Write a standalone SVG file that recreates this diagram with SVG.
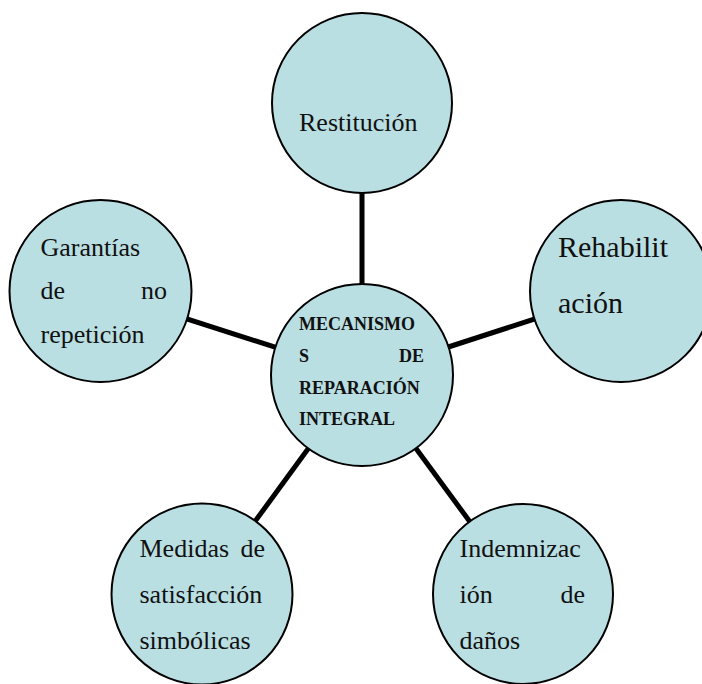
<svg xmlns="http://www.w3.org/2000/svg" width="702" height="684" viewBox="0 0 702 684">
<style>
.node circle{fill:#B9DFE3;stroke:#000;stroke-width:2}
.t{font-family:"Liberation Serif","Times New Roman",serif;font-size:26px;fill:#111}
.big{font-size:30px}
.c{font-family:"Liberation Serif","Times New Roman",serif;font-size:18px;font-weight:bold;fill:#111}
.e{text-anchor:end}
#connectors line{stroke:#000;stroke-width:5}
</style>
<rect width="702" height="684" fill="#fff"/>
<g id="connectors">
<line x1="362" y1="375" x2="362" y2="103"/>
<line x1="362" y1="375" x2="621" y2="291"/>
<line x1="362" y1="375" x2="100" y2="291"/>
<line x1="362" y1="375" x2="202" y2="594"/>
<line x1="362" y1="375" x2="523" y2="594"/>
</g>
<g id="restitucion" class="node">
<circle cx="362" cy="103" r="90"/>
<text class="t" x="299" y="131">Restitución</text>
</g>
<g id="rehabilitacion" class="node">
<circle cx="621" cy="291" r="91"/>
<text class="t big" x="558" y="256.5">Rehabilit</text>
<text class="t big" x="558" y="313">ación</text>
</g>
<g id="garantias" class="node">
<circle cx="100.5" cy="291" r="91"/>
<text class="t" x="40.5" y="256">Garantías</text>
<text class="t" x="40.5" y="299">de</text>
<text class="t e" x="167" y="299">no</text>
<text class="t" x="40.5" y="343">repetición</text>
</g>
<g id="medidas" class="node">
<circle cx="202" cy="594" r="90.5"/>
<text class="t" x="139.5" y="556.5">Medidas</text>
<text class="t e" x="265" y="556.5">de</text>
<text class="t" x="139.5" y="602.5">satisfacción</text>
<text class="t" x="139.5" y="648.5">simbólicas</text>
</g>
<g id="indemnizacion" class="node">
<circle cx="523" cy="594" r="90"/>
<text class="t" x="459.5" y="556.5">Indemnizac</text>
<text class="t" x="459.5" y="602.5">ión</text>
<text class="t e" x="585" y="602.5">de</text>
<text class="t" x="459.5" y="648.5">daños</text>
</g>
<g id="mecanismos" class="node">
<circle cx="362" cy="375" r="91"/>
<text class="c" x="299" y="329.5">MECANISMO</text>
<text class="c" x="299" y="361.5">S</text>
<text class="c e" x="424" y="361.5">DE</text>
<text class="c" x="299" y="393.5">REPARACIÓN</text>
<text class="c" x="299" y="425">INTEGRAL</text>
</g>
</svg>
